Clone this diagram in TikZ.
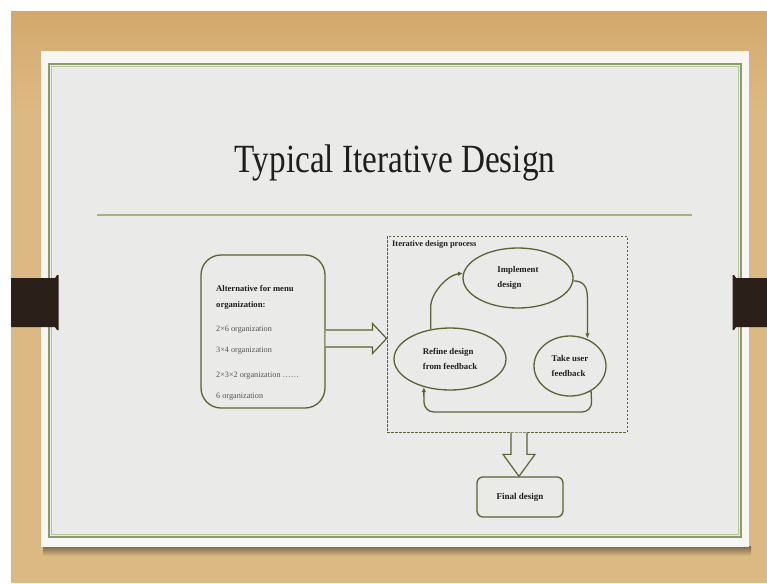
\documentclass[tikz,border=0pt]{standalone}
\usepackage{fontspec}
\setmainfont{Liberation Serif}
\usetikzlibrary{shapes.geometric,calc,arrows.meta}

\definecolor{wood}{HTML}{DCB982}
\definecolor{woodtop}{HTML}{D4A86D}
\definecolor{card}{HTML}{EAEAE8}
\definecolor{cardedge}{HTML}{F6F6F4}
\definecolor{frame}{HTML}{8C9A66}
\definecolor{framelight}{HTML}{B8C49A}
\definecolor{rule}{HTML}{A9B07C}
\definecolor{ink}{HTML}{5A6431}
\definecolor{tab}{HTML}{2A2019}
\definecolor{txt}{HTML}{1E1E1E}
\definecolor{soft}{HTML}{555555}

\begin{document}
\begin{tikzpicture}[x=1pt,y=-1pt,
  outline/.style={draw=ink, line width=1.3pt},
  altbox/.style={outline, fill=card, rounded corners=20pt, minimum width=124pt, minimum height=153pt, inner sep=0pt},
  procbox/.style={draw=ink, line width=1pt, dash pattern=on 2.5pt off 1.5pt, minimum width=240pt, minimum height=196pt, inner sep=0pt},
  stage/.style={outline, ellipse, inner sep=0pt, align=left, font=\fontsize{8.8}{15}\selectfont\bfseries, text=txt},
  finalbox/.style={outline, rounded corners=6pt, minimum width=86pt, minimum height=40pt, inner sep=0pt, font=\fontsize{9}{11}\selectfont\bfseries, text=txt},
  head/.style={anchor=west, inner sep=0pt, font=\fontsize{8.6}{11}\selectfont\bfseries, text=txt},
  item/.style={anchor=west, inner sep=0pt, font=\fontsize{8.2}{10}\selectfont, text=soft},
  flow/.style={draw=ink, line width=1.3pt, -{Latex[length=5pt,width=4.5pt]}},
  hollow/.style={draw=ink, line width=1.2pt, fill=card, line join=miter}
]
\useasboundingbox (0,0) rectangle (767,583);
\fill[white] (0,0) rectangle (767,583);

% wooden table top, warmer towards the upper edge
\fill[wood] (11,12) rectangle (767,583);
\shade[top color=woodtop, bottom color=wood] (11,12) rectangle (767,110);

% slide card with soft shadow
\shade[top color=black!45!wood, bottom color=wood] (43,546) rectangle (751,556);
\fill[cardedge] (41,51) rectangle (749,547);
\fill[card] (50,65) rectangle (741,536);
\draw[frame, line width=1.6pt] (49,64) rectangle (741,537);
\draw[framelight, line width=0.6pt] (51.5,66.5) rectangle (738.5,534.5);

% binder tabs
\fill[tab] (11,278) -- (55,278) -- (57,275) -- (58.5,275) -- (58.5,330) -- (57,330) -- (55,327) -- (11,327) -- cycle;
\fill[tab] (767,278) -- (736,278) -- (734,275) -- (732.5,275) -- (732.5,330) -- (734,330) -- (736,327) -- (767,327) -- cycle;

% title and rule
\node[anchor=base, inner sep=0pt, text=txt] (title) at (395,172)
  {\scalebox{0.83}[1]{\fontsize{40}{44}\selectfont Typical Iterative Design}};
\draw[rule, line width=2pt] (97,215) -- (692,215);

% menu alternatives
\node[altbox] (alt) at (263,331.5) {};
\node[head] (h1) at (216,289) {Alternative for menu};
\node[head] (h2) at (216,305) {organization:};
\node[item] (o1) at (216,330) {2×6 organization};
\node[item] (o2) at (216,351) {3×4 organization};
\node[item] (o3) at (216,376) {2×3×2 organization ……};
\node[item] (o4) at (216,397) {6 organization};

% iterative process
\node[procbox] (proc) at (507,334) {};
\node[anchor=west, inner sep=0pt, font=\fontsize{8.4}{10}\selectfont\bfseries, text=txt] (ptitle) at (392,245) {Iterative design process};

\node[stage, minimum width=110pt, minimum height=60pt] (impl) at (518,278) {Implement\\design\hspace{16pt}};
\node[stage, minimum width=112pt, minimum height=62pt] (refine) at (450,359) {Refine design\\from feedback};
\node[stage, minimum width=72pt, minimum height=60pt] (take) at (570,366) {Take user\\feedback};

\draw[flow] (refine.123) -- ++(0,-22) .. controls +(0,-14) and +(-16,2) .. (impl.175);
\draw[flow] (impl.-3) .. controls +(10,0) and +(0,-12) .. ($(take.60)+(1.5,-40)$) -- ($(take.60)+(1.5,0)$);
\coordinate (l1) at (592,412);
\coordinate (l2) at (424,412);
\draw[flow, rounded corners=10pt] (take.-50) -- (l1) -- (l2) -- (refine.-133);

\node[finalbox] (final) at (520,497) {Final design};

% hollow arrows
\coordinate (ra) at ($(alt.east)+(0,7)$);
\coordinate (rt) at (proc.west |- ra);
\draw[hollow] ($(ra)+(0,-8.5)$) -- ($(rt)+(-14,-8.5)$) -- ($(rt)+(-14,-15)$) -- (rt)
  -- ($(rt)+(-14,15)$) -- ($(rt)+(-14,8.5)$) -- ($(ra)+(0,8.5)$);
\coordinate (da) at (proc.south -| 519,0);
\coordinate (dt) at (final.north -| da);
\draw[hollow] ($(da)+(-8,0)$) -- ($(dt)+(-8,-22)$) -- ($(dt)+(-16,-22)$) -- (dt)
  -- ($(dt)+(16,-22)$) -- ($(dt)+(8,-22)$) -- ($(da)+(8,0)$);
\end{tikzpicture}
\end{document}
